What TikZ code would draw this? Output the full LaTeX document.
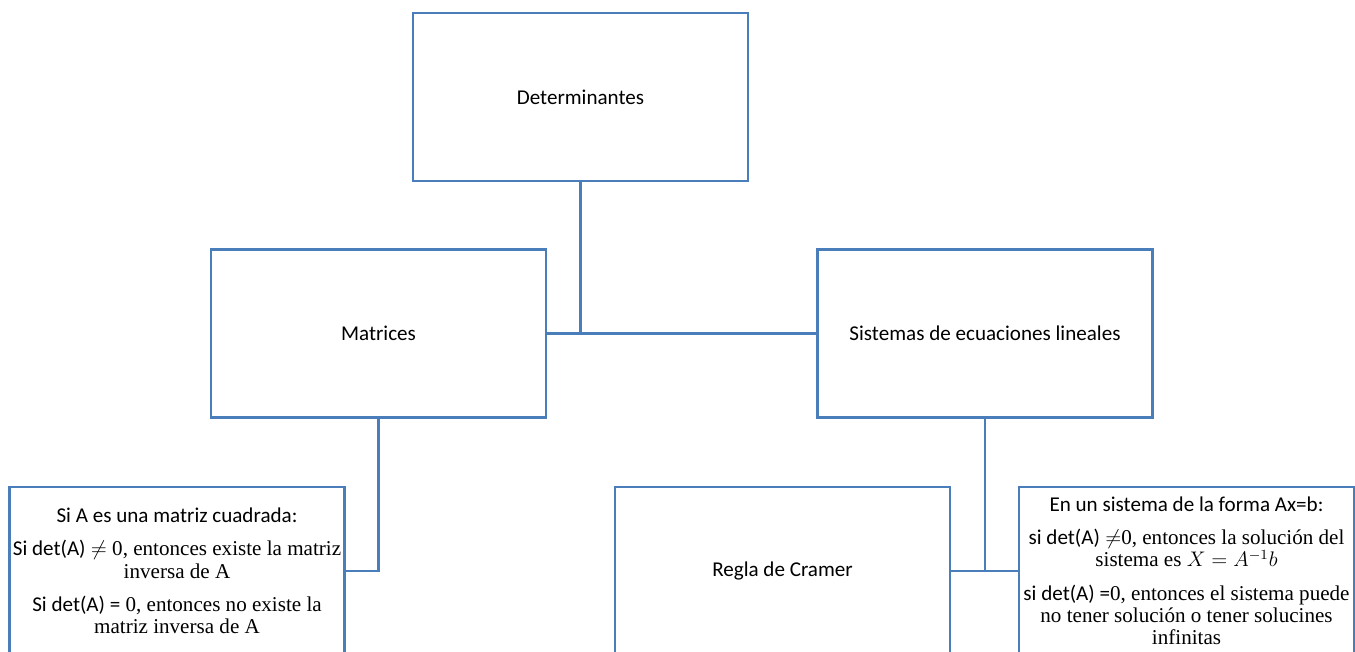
\documentclass[tikz,border=0pt]{standalone}
\usepackage{fontspec}
\setmainfont{Liberation Serif}
\newfontfamily\calibri{Carlito}
\definecolor{azul}{RGB}{74,126,187}
\begin{document}
\begin{tikzpicture}[x=0.02cm,y=-0.02cm,
		caja/.style={draw=azul,line width=1.5pt,rectangle,minimum width=6.7cm,minimum height=3.36cm,
			align=center,font=\fontsize{12}{13}\selectfont\calibri},
		texto/.style={caja,inner sep=1pt,font=\fontsize{12}{12.8}\selectfont},
		linea/.style={draw=azul,line width=1.5pt}]
		\clip (0,0) rectangle (1355,652);
		\node[caja] (det) at (580.5,97) {Determinantes};
		\node[caja] (mat) at (378.5,333.5) {Matrices};
		\node[caja] (sis) at (985,333.5) {Sistemas de ecuaciones lineales};
		\node[texto] (izq) at (177,571) {{\calibri Si A es una matriz cuadrada:}\\[6pt]
			{\calibri Si det(A)} $\neq$ 0, entonces existe la matriz\\inversa de A\\[6pt]
			{\calibri Si det(A) =} 0, entonces no existe la\\matriz inversa de A};
		\node[caja] (cramer) at (782.5,571) {Regla de Cramer};
		\node[texto] (der) at (1186.5,571) {{\calibri En un sistema de la forma Ax=b:}\\[6pt]
			{\calibri si det(A)} $\neq$0, entonces la solución del\\sistema es $X=A^{-1}b$\\[6pt]
			{\calibri si det(A) =}0, entonces el sistema puede\\no tener solución o tener solucines\\infinitas};
		\draw[linea] (det.south) -- (det.south |- mat.east);
		\draw[linea] (mat.east) -- (sis.west);
		\draw[linea] (mat.south) |- (izq.east);
		\draw[linea] (sis.south) -- (sis.south |- cramer.east);
		\draw[linea] (cramer.east) -- (der.west);
	\end{tikzpicture}
\end{document}
